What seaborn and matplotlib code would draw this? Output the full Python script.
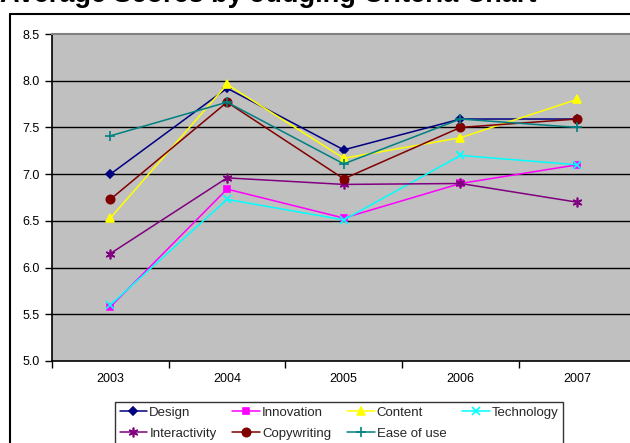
import matplotlib
matplotlib.use("Agg")
import matplotlib.pyplot as plt
from matplotlib.lines import Line2D
import numpy as np
import pandas as pd
import seaborn as sns

# Judging years and average scores per criterion
years = ["2003", "2004", "2005", "2006", "2007"]
design = [7.00, 7.92, 7.26, 7.59, 7.59]
innovation = [5.58, 6.84, 6.53, 6.90, 7.10]
content = [6.53, 7.96, 7.17, 7.39, 7.80]
technology = [5.60, 6.73, 6.51, 7.20, 7.10]
interactivity = [6.15, 6.96, 6.89, 6.90, 6.70]
copywriting = [6.73, 7.77, 6.95, 7.50, 7.59]
ease_of_use = [7.41, 7.77, 7.11, 7.59, 7.50]

y_ticks = [5.0, 5.5, 6.0, 6.5, 7.0, 7.5, 8.0, 8.5]

series = [
    ("Design", design, "#000080", "D", 4.5),
    ("Innovation", innovation, "#FF00FF", "s", 5),
    ("Content", content, "#FFFF00", "^", 6),
    ("Technology", technology, "#00FFFF", "x", 6),
    ("Interactivity", interactivity, "#800080", (6, 2, 0), 7),
    ("Copywriting", copywriting, "#800000", "o", 6),
    ("Ease of use", ease_of_use, "#008080", "+", 7),
]

sns.set_theme(style="white")
plt.rcParams["font.family"] = ["Liberation Sans", "DejaVu Sans"]

W, H = 630, 443
fig = plt.figure(figsize=(W / 100, H / 100), dpi=100)
fig.patch.set_facecolor("white")

left, top, bottom = 52, 34, 361
slot = 116.7
ax = fig.add_axes([left / W, 1 - bottom / H, 5 * slot / W, (bottom - top) / H])
ax.set_facecolor("#C0C0C0")

positions = np.arange(len(years))
handles = {}
for name, vals, color, marker, ms in series:
    df = pd.DataFrame({"x": positions, "score": vals})
    sns.lineplot(data=df, x="x", y="score", ax=ax, color=color, marker=marker,
                 markersize=ms, markeredgecolor=color, markerfacecolor=color,
                 markeredgewidth=1.2, linewidth=1.1, label=name, legend=False)
    handles[name] = ax.get_lines()[-1]

ax.set_xlim(-0.5, len(years) - 0.5)
ax.set_ylim(5.0, 8.5)
ax.set_yticks(y_ticks)
ax.set_yticklabels([f"{v:.1f}" for v in y_ticks])
ax.set_xticks(positions)
ax.set_xticklabels(years)
ax.set_xticks(np.arange(-0.5, len(years), 1.0), minor=True)
ax.tick_params(axis="x", which="major", length=0, pad=9, labelsize=9, colors="black")
ax.tick_params(axis="x", which="minor", length=5, width=1, direction="out", color="black", bottom=True)
ax.tick_params(axis="y", length=5, width=1, direction="out", pad=4, labelsize=9, colors="black", left=True)
ax.set_xlabel("")
ax.set_ylabel("")

for yv in y_ticks[1:-1]:
    ax.axhline(yv, color="black", linewidth=1, zorder=0.5)

for side in ["left", "bottom"]:
    ax.spines[side].set_color("black")
    ax.spines[side].set_linewidth(1.2)
ax.spines["top"].set_color("#808080")
ax.spines["top"].set_linewidth(1.5)
ax.spines["right"].set_visible(False)

# chart area frame
fig.add_artist(Line2D([10 / W, 10 / W], [0, 1 - 14 / H], transform=fig.transFigure,
                      color="black", linewidth=1.5))
fig.add_artist(Line2D([10 / W, 1], [1 - 14 / H, 1 - 14 / H], transform=fig.transFigure,
                      color="black", linewidth=1.5))

fig.text(0, 1 - 2.5 / H, "Average Scores by Judging Criteria Chart",
         fontsize=19.5, fontweight="bold", ha="left", va="baseline", color="black")

order = ["Design", "Interactivity", "Innovation", "Copywriting",
         "Content", "Ease of use", "Technology"]
leg = fig.legend([handles[n] for n in order], order, ncol=4,
                 loc="upper left", bbox_to_anchor=(115 / W, 1 - 402 / H),
                 frameon=True, fancybox=False, fontsize=9.5, handlelength=2.1,
                 handletextpad=0.15, columnspacing=1.2, borderpad=0.35,
                 labelspacing=0.65, borderaxespad=0)
leg.get_frame().set_edgecolor("black")
leg.get_frame().set_linewidth(1.0)

fig.savefig("out.png", dpi=100, facecolor="white")
